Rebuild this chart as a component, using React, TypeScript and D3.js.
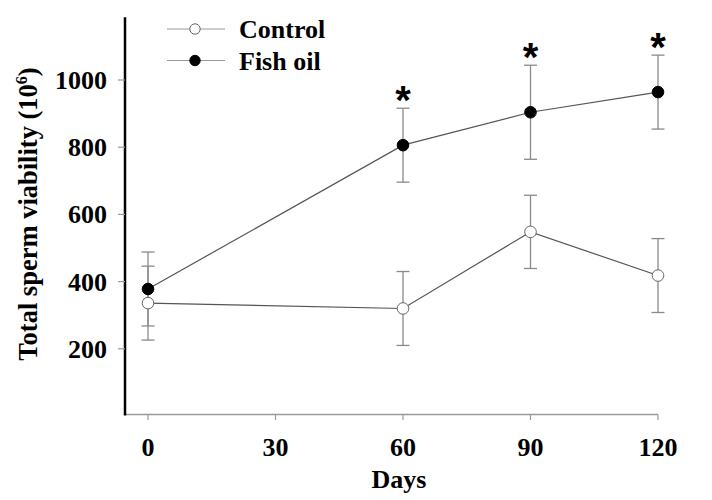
import React from "react";
import * as d3 from "d3";

const days = [0, 60, 90, 120];
const controlMean = [336, 320, 548, 418];
const controlErr = [110, 110, 109, 110];
const fishMean = [378, 806, 904, 964];
const fishErr = [110, 110, 140, 110];
const significant = [false, true, true, true];
const xTicks = [0, 30, 60, 90, 120];
const yTicks = [200, 400, 600, 800, 1000];
const seriesNames = ["Control", "Fish oil"];

const W = 712;
const H = 500;
const FONT = "'Liberation Serif', 'Times New Roman', serif";
const FS = 26;

export default function App() {
  const x = d3.scaleLinear().domain([0, 120]).range([148, 658]);
  const y = d3.scaleLinear().domain([0, 1000]).range([416, 80]);
  const line = d3
    .line<number>()
    .x((_, i) => x(days[i]))
    .y((d) => y(d));

  const series = [
    { name: seriesNames[0], mean: controlMean, err: controlErr, fill: "#fff" },
    { name: seriesNames[1], mean: fishMean, err: fishErr, fill: "#000" },
  ];
  const yTop = y(1187);
  const cap = 6.5;

  return (
    <svg
      width={W}
      height={H}
      style={{ position: "absolute", left: 0, top: 0, background: "#fff" }}
      fontFamily={FONT}
    >
      {/* x axis */}
      <line x1={126} x2={x(120)} y1={414.5} y2={414.5} stroke="#999" strokeWidth={1.3} />
      {xTicks.map((t) => (
        <g key={t}>
          <line x1={x(t)} x2={x(t)} y1={414.5} y2={420} stroke="#999" strokeWidth={1.2} />
          <text x={x(t)} y={456} textAnchor="middle" fontSize={FS} fontWeight="bold">
            {t}
          </text>
        </g>
      ))}
      <text x={399} y={488} textAnchor="middle" fontSize={FS} fontWeight="bold">
        Days
      </text>

      {/* y axis */}
      <line x1={125} x2={125} y1={yTop} y2={415.5} stroke="#000" strokeWidth={2.5} />
      {yTicks.map((t) => (
        <g key={t}>
          <line x1={118} x2={125} y1={y(t)} y2={y(t)} stroke="#999" strokeWidth={1.2} />
          <text
            x={107}
            y={y(t) + 9}
            textAnchor="end"
            fontSize={FS}
            fontWeight="bold"
          >
            {t}
          </text>
        </g>
      ))}
      <text
        transform={`translate(37, 214) rotate(-90)`}
        textAnchor="middle"
        fontSize={26.5}
        fontWeight="bold"
      >
        Total sperm viability (10
        <tspan fontSize={16} dy={-10}>
          6
        </tspan>
        <tspan dy={10}>)</tspan>
      </text>

      {/* error bars */}
      {series.map((s) =>
        s.mean.map((m, i) => {
          const cx = x(days[i]);
          const hi = y(m + s.err[i]);
          const lo = y(m - s.err[i]);
          return (
            <g key={s.name + i} stroke="#8a8a8a" strokeWidth={1.3}>
              <line x1={cx} x2={cx} y1={hi} y2={lo} />
              <line x1={cx - cap} x2={cx + cap} y1={hi} y2={hi} />
              <line x1={cx - cap} x2={cx + cap} y1={lo} y2={lo} />
            </g>
          );
        })
      )}

      {/* lines */}
      {series.map((s) => (
        <path key={s.name} d={line(s.mean) || ""} fill="none" stroke="#555" strokeWidth={1.2} />
      ))}

      {/* markers */}
      {series.map((s) =>
        s.mean.map((m, i) => (
          <circle
            key={s.name + "c" + i}
            cx={x(days[i])}
            cy={y(m)}
            r={5.8}
            fill={s.fill}
            stroke={s.fill === "#000" ? "#000" : "#666"}
            strokeWidth={1}
          />
        ))
      )}

      {/* significance */}
      {fishMean.map((m, i) =>
        significant[i] ? (
          <text
            key={"s" + i}
            x={x(days[i])}
            y={y(m + fishErr[i]) + 6}
            textAnchor="middle"
            fontSize={40}
            fontWeight="bold"
            fontFamily="'Liberation Sans', Arial, sans-serif"
          >
            *
          </text>
        ) : null
      )}

      {/* legend */}
      {series.map((s, i) => {
        const ly = 29 + i * 31.5;
        return (
          <g key={"lg" + s.name}>
            <line x1={167} x2={225} y1={ly} y2={ly} stroke="#999" strokeWidth={1.2} />
            <circle
              cx={195}
              cy={ly}
              r={5.2}
              fill={s.fill}
              stroke={s.fill === "#000" ? "#000" : "#666"}
              strokeWidth={1}
            />
            <text x={239} y={ly + 9} fontSize={FS} fontWeight="bold">
              {s.name}
            </text>
          </g>
        );
      })}
    </svg>
  );
}
